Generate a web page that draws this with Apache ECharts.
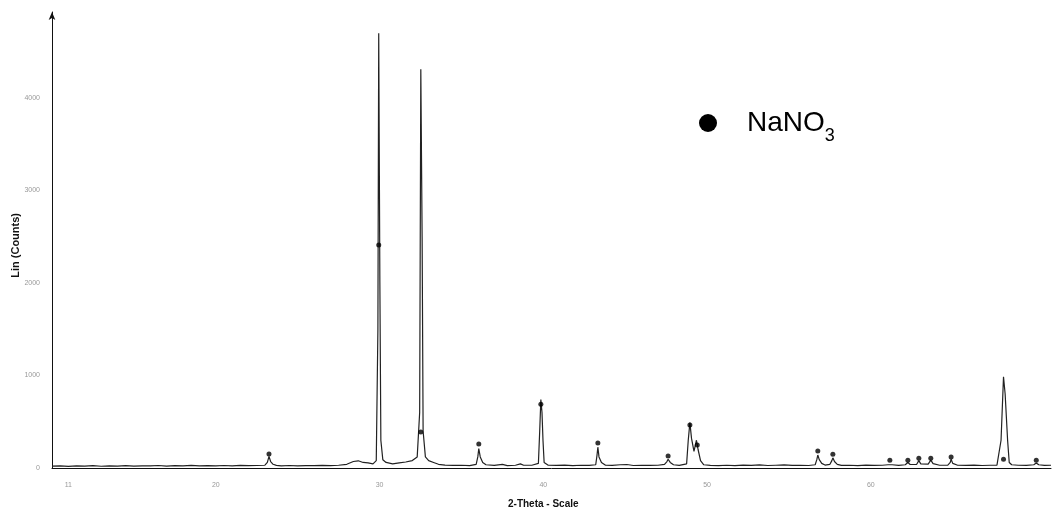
<!DOCTYPE html>
<html>
<head>
<meta charset="utf-8">
<script src="https://cdn.jsdelivr.net/npm/echarts@6/dist/echarts.min.js"></script>
<style>
html,body{margin:0;padding:0;background:#fff;}
#chart{width:1054px;height:515px;}
</style>
</head>
<body>
<div id="chart"></div>
<script>
// 2-theta (deg) vs counts
const pattern = [
[10.0,20],[10.5,22],[11,18],[11.5,24],[12,20],[12.5,26],[13,19],[13.5,23],[14,21],[14.5,25],
[15,20],[15.5,24],[16,22],[16.5,27],[17,21],[17.5,25],[18,23],[18.5,28],[19,22],[19.5,26],
[20,24],[20.5,27],[21,23],[21.5,28],[22,25],[22.5,27],[23.0,30],[23.15,60],[23.25,125],[23.35,70],
[23.5,40],[23.7,28],[24,24],[24.5,27],[25,23],[25.5,26],[26,25],[26.5,28],[27,26],[27.5,30],
[28.0,40],[28.4,70],[28.7,78],[29.0,60],[29.3,55],[29.6,45],[29.8,80],[29.9,1500],[29.95,4700],[30.02,2000],
[30.08,300],[30.2,90],[30.4,60],[30.8,45],[31.2,55],[31.6,65],[32.0,80],[32.3,120],[32.45,600],[32.52,4310],
[32.6,2500],[32.66,400],[32.8,120],[33.0,80],[33.3,60],[33.6,40],[34,32],[34.5,28],[35,30],[35.5,26],
[35.9,40],[36.0,120],[36.06,210],[36.15,120],[36.3,60],[36.5,35],[37,28],[37.5,40],[37.8,26],[38.3,30],
[38.6,45],[38.8,30],[39.3,30],[39.7,50],[39.78,400],[39.85,740],[39.92,600],[39.98,300],[40.05,60],[40.3,30],
[40.8,28],[41.3,32],[41.8,26],[42.3,30],[42.8,28],[43.2,35],[43.28,140],[43.33,225],[43.4,120],[43.55,60],
[43.8,30],[44.2,28],[44.7,35],[45.1,38],[45.5,27],[46,30],[46.5,28],[47,30],[47.4,40],[47.55,70],
[47.62,95],[47.75,60],[47.95,35],[48.3,28],[48.75,45],[48.85,300],[48.95,490],[49.05,320],[49.2,180],[49.35,300],
[49.45,200],[49.6,80],[49.8,35],[50.2,28],[50.7,25],[51.2,30],[51.7,26],[52.2,32],[52.7,28],[53.2,34],
[53.7,27],[54.2,30],[54.7,33],[55.2,28],[55.7,30],[56.2,27],[56.6,35],[56.7,90],[56.76,140],[56.85,90],
[57.0,50],[57.2,32],[57.5,40],[57.62,80],[57.68,110],[57.78,70],[57.95,40],[58.2,28],[58.7,30],[59.2,26],
[59.7,32],[60.2,28],[60.7,30],[61.05,35],[61.16,55],[61.3,35],[61.7,28],[62.1,35],[62.26,60],[62.4,38],
[62.8,40],[62.93,80],[63.05,45],[63.5,42],[63.66,85],[63.8,48],[64.2,30],[64.7,32],[64.85,60],[64.9,95],
[65.0,50],[65.3,30],[65.8,28],[66.3,32],[66.8,27],[67.3,30],[67.7,32],[67.8,45],[67.95,300],[68.1,985],
[68.2,800],[68.35,300],[68.45,60],[68.6,35],[69.0,30],[69.5,28],[69.95,35],[70.1,55],[70.25,35],[70.6,28],[71.0,30]
];
// NaNO3 peak markers
const markers = [
[23.25,151],[29.95,2410],[32.52,390],[36.06,260],[39.85,690],[43.33,270],[47.62,130],[48.95,465],[49.4,250],
[56.76,185],[57.68,150],[61.16,85],[62.26,85],[62.93,105],[63.66,105],[64.9,120],[68.1,95],[70.1,85]
];
const xTickLabels = [11,20,30,40,50,60];
const yTicks = [0,1000,2000,3000,4000];

const chart = echarts.init(document.getElementById('chart'));
chart.setOption({
  animation:false,
  backgroundColor:'#fff',
  grid:{left:52,right:3,top:12,bottom:47,containLabel:false},
  xAxis:{
    type:'value',min:10,max:71,
    axisLine:{show:true,lineStyle:{color:'#111',width:1}},
    axisTick:{show:false},
    splitLine:{show:false},
    axisLabel:{customValues:xTickLabels,color:'#999',fontSize:7,margin:14,fontFamily:'Liberation Sans'}
  },
  yAxis:{
    type:'value',min:0,max:4930,interval:1000,
    axisLine:{show:true,symbol:['none','arrow'],symbolSize:[5,8],lineStyle:{color:'#111',width:1}},
    axisTick:{show:false},
    splitLine:{show:false},
    axisLabel:{showMaxLabel:false,color:'#999',fontSize:7,margin:12,fontFamily:'Liberation Sans',
      formatter:function(v){return yTicks.indexOf(v)>=0?String(v):'';}}
  },
  series:[
    {type:'line',data:pattern,showSymbol:false,symbol:'none',
     lineStyle:{color:'#222',width:1.2},z:2},
    {type:'scatter',data:markers,symbol:'circle',symbolSize:5,
     itemStyle:{color:'#000'},z:3}
  ],
  graphic:[
    {type:'text',left:10,top:213,rotation:Math.PI/2,
     style:{text:'Lin (Counts)',font:'bold 11px "Liberation Sans"',fill:'#111'},
     x:10,y:282,originX:0,originY:0},
    {type:'text',x:508,y:499,
     style:{text:'2-Theta - Scale',font:'bold 10px "Liberation Sans"',fill:'#111'}},
    {type:'circle',shape:{cx:708,cy:123,r:9},style:{fill:'#000'}},
    {type:'text',x:747,y:109,
     style:{text:'{a|NaNO}{b|3}',rich:{
       a:{font:'28px "Liberation Sans"',fill:'#000',verticalAlign:'bottom'},
       b:{font:'18px "Liberation Sans"',fill:'#000',padding:[0,0,-8,0],verticalAlign:'bottom'}}}}
  ]
});
</script>
</body>
</html>
